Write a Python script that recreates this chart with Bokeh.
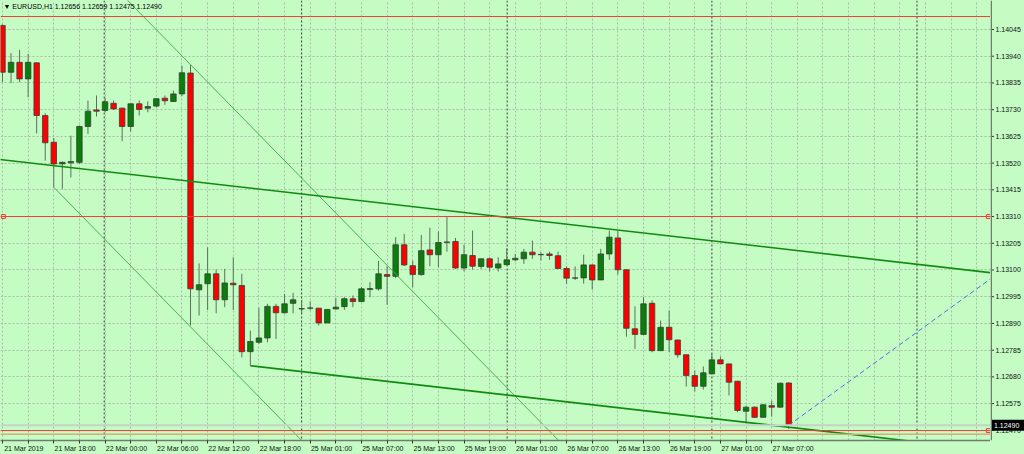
from bokeh.plotting import figure
from bokeh.layouts import row
from bokeh.models import (Range1d, FixedTicker, Span, Label, ColumnDataSource,
                          GlobalInlineStyleSheet)
from bokeh.core.properties import value
from bokeh.embed import file_html
from bokeh.resources import INLINE

# ---------------- data (EURUSD H1) ----------------
bar_index = list(range(93))
open_ = [1.14061, 1.13877, 1.13916, 1.13851, 1.13914, 1.13707, 1.13602, 1.13517, 1.13521, 1.13523,
         1.13664, 1.13729, 1.13727, 1.13755, 1.13736, 1.13664, 1.13753, 1.13736, 1.13744, 1.13775,
         1.13762, 1.13792, 1.13874, 1.13022, 1.13046, 1.13085, 1.12983, 1.13048, 1.13039, 1.12779,
         1.12816, 1.12833, 1.12957, 1.12932, 1.12969, 1.12947, 1.12950, 1.12950, 1.12892, 1.12947,
         1.12956, 1.12987, 1.12976, 1.13023, 1.13026, 1.13082, 1.13075, 1.13199, 1.13117, 1.13082,
         1.13179, 1.13160, 1.13209, 1.13212, 1.13108, 1.13157, 1.13114, 1.13144, 1.13108, 1.13121,
         1.13140, 1.13144, 1.13170, 1.13161, 1.13163, 1.13156, 1.13106, 1.13069, 1.13069, 1.13120,
         1.13061, 1.13163, 1.13226, 1.13101, 1.12869, 1.12847, 1.12969, 1.12783, 1.12875, 1.12825,
         1.12767, 1.12685, 1.12643, 1.12692, 1.12747, 1.12731, 1.12663, 1.12545, 1.12561, 1.12521,
         1.12567, 1.12561, 1.12656]
high = [1.14065, 1.13952, 1.13965, 1.13949, 1.13916, 1.13716, 1.13619, 1.13527, 1.13628, 1.13668,
        1.13766, 1.13786, 1.13777, 1.13766, 1.13738, 1.13755, 1.13766, 1.13763, 1.13775, 1.13786,
        1.13805, 1.13903, 1.13905, 1.13126, 1.13189, 1.13102, 1.13104, 1.13150, 1.13085, 1.12862,
        1.12951, 1.12967, 1.12967, 1.13006, 1.13010, 1.12983, 1.12977, 1.12951, 1.12946, 1.12991,
        1.12993, 1.13000, 1.13032, 1.13052, 1.13136, 1.13114, 1.13229, 1.13242, 1.13137, 1.13238,
        1.13266, 1.13251, 1.13310, 1.13226, 1.13200, 1.13255, 1.13145, 1.13150, 1.13150, 1.13185,
        1.13163, 1.13183, 1.13216, 1.13170, 1.13172, 1.13172, 1.13114, 1.13114, 1.13160, 1.13121,
        1.13183, 1.13255, 1.13252, 1.13102, 1.12957, 1.12993, 1.12980, 1.12901, 1.12941, 1.12826,
        1.12768, 1.12705, 1.12721, 1.12770, 1.12760, 1.12732, 1.12664, 1.12567, 1.12564, 1.12574,
        1.12587, 1.12658, 1.12659]
low = [1.13838, 1.13834, 1.13838, 1.13779, 1.13637, 1.13530, 1.13425, 1.13419, 1.13464, 1.13517,
       1.13635, 1.13703, 1.13720, 1.13729, 1.13606, 1.13644, 1.13707, 1.13720, 1.13740, 1.13749,
       1.13760, 1.13783, 1.12882, 1.12921, 1.12943, 1.12930, 1.12954, 1.12943, 1.12757, 1.12724,
       1.12810, 1.12816, 1.12829, 1.12929, 1.12930, 1.12930, 1.12941, 1.12882, 1.12891, 1.12945,
       1.12943, 1.12954, 1.12975, 1.12993, 1.13019, 1.12963, 1.13068, 1.13115, 1.13032, 1.13078,
       1.13115, 1.13111, 1.13172, 1.13104, 1.13095, 1.13102, 1.13104, 1.13094, 1.13094, 1.13120,
       1.13134, 1.13124, 1.13144, 1.13137, 1.13140, 1.13104, 1.13046, 1.13061, 1.13046, 1.13023,
       1.13060, 1.13140, 1.13082, 1.12838, 1.12790, 1.12846, 1.12777, 1.12782, 1.12777, 1.12755,
       1.12642, 1.12623, 1.12630, 1.12691, 1.12730, 1.12607, 1.12541, 1.12502, 1.12518, 1.12520,
       1.12524, 1.12560, 1.12475]
close = [1.13877, 1.13916, 1.13851, 1.13916, 1.13707, 1.13600, 1.13517, 1.13523, 1.13526, 1.13664,
         1.13724, 1.13724, 1.13761, 1.13733, 1.13664, 1.13753, 1.13731, 1.13742, 1.13773, 1.13765,
         1.13792, 1.13875, 1.13026, 1.13042, 1.13085, 1.12983, 1.13049, 1.13042, 1.12779, 1.12819,
         1.12833, 1.12957, 1.12932, 1.12967, 1.12983, 1.12948, 1.12951, 1.12892, 1.12945, 1.12954,
         1.12987, 1.12976, 1.13026, 1.13027, 1.13085, 1.13075, 1.13199, 1.13120, 1.13082, 1.13176,
         1.13160, 1.13208, 1.13210, 1.13108, 1.13160, 1.13115, 1.13144, 1.13111, 1.13124, 1.13140,
         1.13146, 1.13170, 1.13160, 1.13160, 1.13157, 1.13106, 1.13068, 1.13068, 1.13120, 1.13061,
         1.13163, 1.13229, 1.13101, 1.12871, 1.12847, 1.12967, 1.12783, 1.12875, 1.12826, 1.12767,
         1.12685, 1.12643, 1.12696, 1.12747, 1.12731, 1.12659, 1.12548, 1.12561, 1.12521, 1.12570,
         1.12561, 1.12655, 1.12490]

time_label_bars = [0, 6, 12, 18, 24, 30, 36, 42, 48, 54, 60, 66, 72, 78, 84, 90]
time_labels = ["21 Mar 2019", "21 Mar 18:00", "22 Mar 00:00", "22 Mar 06:00", "22 Mar 12:00",
               "22 Mar 18:00", "25 Mar 01:00", "25 Mar 07:00", "25 Mar 13:00", "25 Mar 19:00",
               "26 Mar 01:00", "26 Mar 07:00", "26 Mar 13:00", "26 Mar 19:00", "27 Mar 01:00",
               "27 Mar 07:00"]
price_ticks = [1.12470, 1.12575, 1.12680, 1.12785, 1.12890, 1.12995, 1.13100, 1.13205,
               1.13310, 1.13415, 1.13520, 1.13625, 1.13730, 1.13835, 1.13940, 1.14045]
price_labels = ["1.12470", "1.12575", "1.12680", "1.12785", "1.12890", "1.12995", "1.13100",
                "1.13205", "1.13310", "1.13415", "1.13520", "1.13625", "1.13730", "1.13835",
                "1.13940", "1.14045"]
day_separator_bars = [11.9, 35.0, 59.05, 83.0, 107.0]

# horizontal line objects
red_levels = [1.14096, 1.13310, 1.12469]
tan_level = 1.12455
bid_price = 1.12490
bid_text = "1.12490"
header_text = "\u25bc EURUSD,H1  1.12656 1.12659 1.12475 1.12490"

# trend lines (bar index, price)
channel_x0 = [-1.0, 29.0]
channel_y0 = [1.13537, 1.12724]
channel_x1 = [116.0, 116.0]
channel_y1 = [1.13088, 1.12390]
thin_x0 = [5.0, 6.0]
thin_y0 = [1.14490, 1.13425]
thin_x1 = [70.0, 40.0]
thin_y1 = [1.12261, 1.12259]
proj_x0 = [92.0]
proj_y0 = [1.12490]
proj_x1 = [116.0]
proj_y1 = [1.13075]

# ---------------- main chart ----------------
BG = "#c4fcc4"
FONT = "Liberation Sans"
AXIS_COLOR = "#6f7d6f"

price_range = Range1d(1.12430, 1.14159)

p = figure(width=990, height=454,
           x_range=Range1d(-0.234, 115.6), y_range=price_range,
           output_backend="svg", toolbar_location=None, tools="",
           x_axis_location="below", y_axis_location=None,
           min_border_left=0, min_border_top=0, min_border_right=0, min_border_bottom=14)
p.stylesheets = [GlobalInlineStyleSheet(css="html, body { margin: 0; padding: 0; overflow: hidden; background: #c4fcc4; }")]
p.background_fill_color = BG
p.border_fill_color = BG
p.outline_line_color = None

# bottom time axis: labels start at their bar
label_pos = [b + 2.5 for b in time_label_bars]
p.xaxis.ticker = FixedTicker(ticks=label_pos, minor_ticks=list(range(0, 91, 3)))
p.xaxis.major_label_overrides = {pos: lab for pos, lab in zip(label_pos, time_labels)}
p.xaxis.major_label_text_font = FONT
p.xaxis.major_label_text_font_size = "7px"
p.xaxis.major_label_text_color = "#111111"
p.xaxis.major_tick_out = 0
p.xaxis.major_tick_in = 0
p.xaxis.minor_tick_out = 3
p.xaxis.minor_tick_in = 0
p.xaxis.minor_tick_line_color = "#333333"
p.xaxis.major_label_standoff = 1
p.xaxis.axis_line_color = AXIS_COLOR
p.xaxis.axis_line_width = 1.5

# grid
p.xgrid.ticker = FixedTicker(ticks=list(range(0, 116, 3)))
p.ygrid.ticker = FixedTicker(ticks=price_ticks)
for g in (p.xgrid, p.ygrid):
    g.grid_line_color = "#a7bfa7"
    g.grid_line_dash = "2 2"
    g.grid_line_width = 1

# day separators
for b in day_separator_bars:
    p.add_layout(Span(location=b, dimension="height", line_color="#3a3a3a",
                      line_dash="2 2", line_width=1, level="underlay"))

# candles
is_up = [c >= o for o, c in zip(open_, close)]
src = ColumnDataSource(dict(
    x=bar_index, high=high, low=low,
    top=[max(o, c) for o, c in zip(open_, close)],
    bottom=[min(o, c) for o, c in zip(open_, close)],
    fill=["#0a7d0a" if u else "#ff0000" for u in is_up],
))
p.segment(x0="x", y0="low", x1="x", y1="high", source=src, line_color="#5e6e5e", line_width=1)
p.vbar(x="x", width=0.64, top="top", bottom="bottom", source=src,
       fill_color="fill", line_color="#354035", line_width=0.8)

# horizontal objects
p.add_layout(Span(location=bid_price, dimension="width", line_color="#c8d2c8", line_width=2))
p.add_layout(Span(location=tan_level, dimension="width", line_color="#d9ab7a", line_width=1.5))
for lv in red_levels:
    p.add_layout(Span(location=lv, dimension="width", line_color="#f03a3a", line_width=1))
p.scatter(x=[115.35, 0.1, 115.35], y=[red_levels[1], red_levels[1], red_levels[2]],
          marker="square", size=4, fill_color=BG, line_color="#f03a3a", line_width=1)

# trend lines
p.segment(x0=thin_x0, y0=thin_y0, x1=thin_x1, y1=thin_y1, line_color="#4fb04f", line_width=1)
p.segment(x0=channel_x0, y0=channel_y0, x1=channel_x1, y1=channel_y1,
          line_color="#108a10", line_width=1.6)
p.segment(x0=proj_x0, y0=proj_y0, x1=proj_x1, y1=proj_y1,
          line_color="#4a74e6", line_width=1, line_dash="5 3")

p.add_layout(Label(x=3, y=434, x_units="screen", y_units="screen", text=header_text,
                   text_font=FONT, text_font_size="7px", text_color="#000000",
                   text_baseline="middle"))

# ---------------- price scale (shares the price range) ----------------
q = figure(width=34, height=454, x_range=Range1d(0, 34), y_range=price_range,
           output_backend="svg", toolbar_location=None, tools="",
           x_axis_location=None, y_axis_location=None,
           min_border_left=0, min_border_top=0, min_border_right=0, min_border_bottom=14)
q.background_fill_color = BG
q.border_fill_color = BG
q.outline_line_color = None
q.grid.visible = False
q.add_layout(Span(location=0.75, dimension="height", line_color=AXIS_COLOR, line_width=1.5))
q.segment(x0=0, x1=3.5, y0=price_ticks, y1=price_ticks, line_color="#333333", line_width=1)
q.text(x=5, y=price_ticks, text=price_labels, text_font=value(FONT), text_font_size="7px",
       text_color="#111111", text_baseline="middle", text_align="left")
# bid price box
q.rect(x=[17.5], y=[bid_price], width=[32], height=[11], height_units="screen",
       fill_color="#000000", line_color=None)
q.text(x=[3.5], y=[bid_price], text=[bid_text], text_font=value(FONT), text_font_size="7px",
       text_color="#ffffff", text_baseline="middle", text_align="left")

layout = row(p, q, spacing=0)
open("out.html", "w").write(file_html(layout, INLINE))
